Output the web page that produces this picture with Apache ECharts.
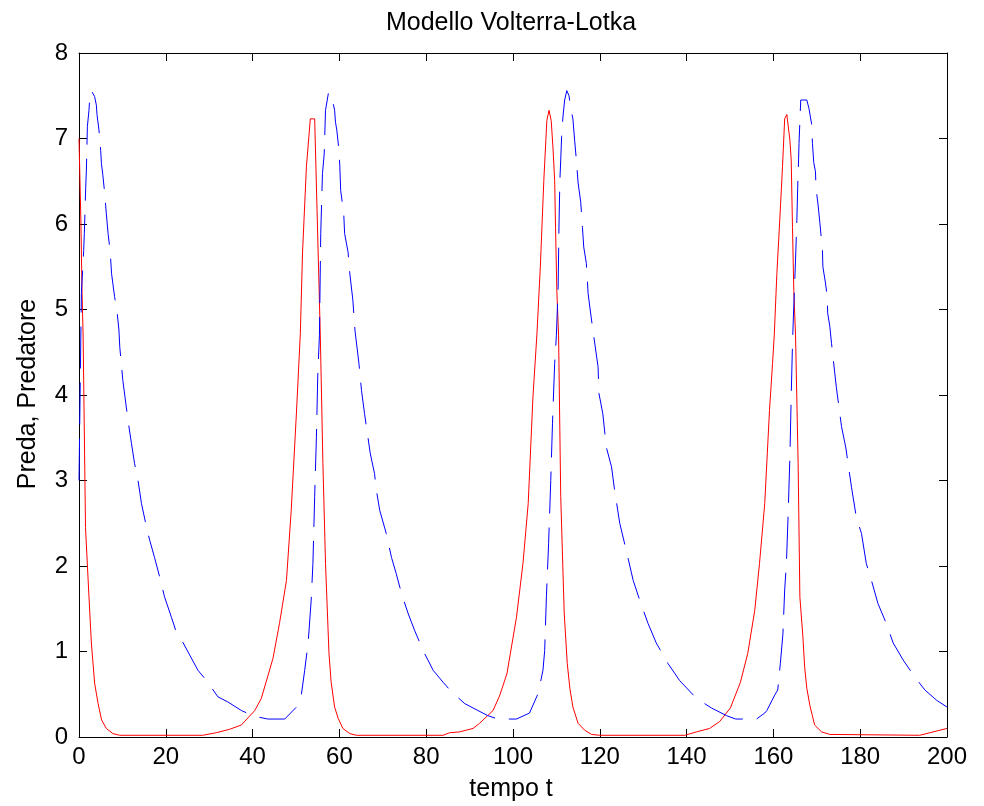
<!DOCTYPE html>
<html>
<head>
<meta charset="utf-8">
<script src="https://cdn.jsdelivr.net/npm/echarts@6/dist/echarts.min.js"></script>
<style>html,body{margin:0;padding:0;background:#fff}#c{width:984px;height:806px}</style>
</head>
<body>
<div id="c"></div>
<script>
// Prey (Preda) - red solid
var preyT = [0,0.45,0.7,0.95,1.5,2.3,2.85,3.6,4.4,5.2,6.3,7.8,9.4,28.5,31.6,34.7,37.4,40.5,42,44.7,46.2,47.8,48.9,50.1,51,51.5,52.4,53.3,54.3,55.6,56.2,56.8,57.6,58.1,58.9,59.7,60.8,62.4,63.9,83.9,85.4,87.7,90.8,92.3,95.4,96.9,98.6,100.8,102.3,103.5,104.6,105.5,106.3,107.1,107.8,108.3,108.8,109.2,109.6,109.8,110.1,110.5,111,111.8,112.5,113.1,113.8,115,116.5,118.1,120,139.6,142.3,145.3,147.6,150.1,152.4,154.1,155.7,156.8,158,158.6,159.1,159.8,160.2,160.8,161.5,162.1,162.6,163.1,163.8,164.1,164.4,164.7,165.1,165.7,166.1,166.8,167.2,167.7,168.4,169.5,171.1,173,193.7,200];
var preyY = [7.0,6.0,5.2,4.7,2.45,1.64,1.1,0.63,0.39,0.2,0.1,0.04,0.02,0.02,0.05,0.09,0.14,0.31,0.45,0.92,1.33,1.83,2.65,3.79,4.72,5.66,6.67,7.23,7.23,4.7,3.2,2.03,0.98,0.64,0.35,0.22,0.1,0.04,0.02,0.02,0.05,0.06,0.1,0.16,0.31,0.48,0.74,1.4,2.03,2.73,3.98,4.7,5.5,6.51,7.21,7.33,7.21,6.9,6.51,5.96,5.22,4.7,2.81,1.45,0.86,0.57,0.35,0.16,0.08,0.03,0.02,0.02,0.06,0.1,0.18,0.34,0.64,0.98,1.48,2.03,2.73,3.32,3.82,4.37,4.7,5.42,6.08,6.67,7.23,7.28,6.98,6.75,5.96,5.22,4.7,3.2,1.64,1.17,0.82,0.57,0.37,0.14,0.06,0.03,0.02,0.1];
// Predator (Predatore) - blue dashed
var predT = [0,0.55,1.08,1.23,1.55,1.7,1.93,2.3,2.47,2.85,3.2,3.6,4.0,4.15,4.6,5.0,5.16,5.5,5.9,6.3,6.7,7.2,7.5,8.2,8.8,9.2,9.4,10.1,11.3,12.1,12.8,13.6,14.4,15.7,16.3,17.4,18.6,19.7,21.3,22.4,24,25.5,27.4,29.4,32.0,34.3,37.4,40.1,41.6,43.5,47.4,50.1,51.2,52,52.8,53.5,53.9,54.3,54.7,55.0,55.4,55.7,56.1,56.5,56.8,57.5,57.9,58.4,58.9,59.1,59.4,59.9,60.1,60.3,61.0,61.2,62,62.4,63.1,63.6,64.5,65.1,65.8,67.1,68.1,68.5,69.3,70.8,72,73.1,74.3,75.8,77.3,79.3,81.6,83.9,85.8,88.9,91.9,94.2,96.5,100.8,103.8,105.8,106.9,107.3,107.7,108.2,108.7,109.1,109.6,110,110.4,110.6,110.8,111,111.2,111.5,111.9,112.4,112.9,113.2,113.8,114.2,114.6,115,115.6,116,116.3,116.9,117.3,117.7,118.4,119.6,119.8,120.7,121.5,122.7,123.4,124.6,126.1,127.7,129.2,131.1,133,135.7,138.4,142.3,145.7,149.2,151.3,156.1,158,158.5,160.3,161,161.6,162.2,162.6,163,163.4,163.8,164.1,164.4,164.6,164.9,165.1,165.4,165.6,165.8,165.9,166.3,166.7,167.7,168.2,168.8,169,169.3,169.7,169.8,170.3,170.7,171.3,171.4,172,172.4,172.5,173,173.4,174.5,175.1,175.7,176.7,177.2,178,179.1,180.3,181.4,182.6,184.1,186,187.6,189.9,192.6,194.9,197.6,200];
var predY = [3.0,5.19,5.69,5.89,6.43,6.63,7.14,7.33,7.47,7.56,7.54,7.49,7.39,7.28,7.1,6.86,6.71,6.57,6.37,6.12,5.89,5.67,5.42,5.15,4.96,4.76,4.56,4.17,3.7,3.43,3.2,3.0,2.73,2.42,2.3,2.1,1.87,1.64,1.4,1.23,1.1,0.96,0.78,0.66,0.47,0.41,0.31,0.25,0.23,0.21,0.21,0.35,0.48,0.78,1.1,1.6,2.03,2.81,3.5,4.2,4.7,5.89,6.59,6.82,7.33,7.54,7.52,7.45,7.33,7.19,7.1,6.86,6.67,6.39,6.12,5.89,5.67,5.42,5.11,4.75,4.37,4.05,3.78,3.32,3.08,2.89,2.65,2.38,2.1,1.91,1.68,1.45,1.25,1.01,0.78,0.64,0.53,0.39,0.31,0.25,0.21,0.21,0.28,0.51,0.78,1.01,1.64,2.26,3.0,3.67,4.37,4.7,5.26,6.0,6.51,6.75,7.02,7.25,7.45,7.56,7.5,7.39,7.23,6.98,6.75,6.48,6.26,5.96,5.73,5.54,5.19,5.03,4.76,4.33,4.02,3.78,3.39,3.16,2.89,2.5,2.18,1.83,1.6,1.33,1.1,0.86,0.66,0.45,0.34,0.25,0.21,0.21,0.28,0.31,0.49,0.55,0.86,1.21,1.72,2.03,2.61,3.27,3.98,4.6,4.9,5.31,5.58,6.04,6.43,6.75,6.94,7.45,7.46,7.45,7.35,7.17,6.94,6.72,6.61,6.43,6.22,6.02,5.69,5.5,5.31,5.15,4.96,4.8,4.6,4.09,3.86,3.63,3.38,3.2,2.92,2.57,2.38,2.03,1.83,1.56,1.33,1.1,0.9,0.7,0.55,0.43,0.35];
var xTicks = {min: 0, max: 200, interval: 20};
var yTicks = {min: 0, max: 8, interval: 1};
var titleText = 'Modello Volterra-Lotka';
var xLabel = 'tempo t';
var yLabel = 'Preda, Predatore';

function zip(a, b) { return a.map(function (v, i) { return [v, b[i]]; }); }

var FONT = '"Liberation Sans", Arial, sans-serif';
var G = {left: 79, top: 53, right: 37, bottom: 69};
var axisCommon = function (pos, show, ticks) {
  return {
    type: 'value', position: pos, min: ticks.min, max: ticks.max, interval: ticks.interval,
    axisLine: {show: true, onZero: false, lineStyle: {color: '#000', width: 1}},
    axisTick: {show: true, inside: true, length: 8, lineStyle: {color: '#000', width: 1}},
    axisLabel: {show: show, color: '#000', fontSize: 24, fontFamily: FONT, margin: pos === 'left' ? 11 : 8, showMinLabel: true, showMaxLabel: true},
    splitLine: {show: false}
  };
};

var chart = echarts.init(document.getElementById('c'), null, {renderer: 'canvas'});
chart.setOption({
  animation: false,
  backgroundColor: '#fff',
  grid: G,
  xAxis: [axisCommon('bottom', true, xTicks), axisCommon('top', false, xTicks)],
  yAxis: [axisCommon('left', true, yTicks), axisCommon('right', false, yTicks)],
  series: [
    {type: 'line', xAxisIndex: 0, yAxisIndex: 0, data: zip(preyT, preyY), showSymbol: false, symbol: 'none',
      lineStyle: {color: '#ff0000', width: 1}},
    {type: 'line', xAxisIndex: 0, yAxisIndex: 0, data: zip(predT, predY), showSymbol: false, symbol: 'none',
      lineStyle: {color: '#0000ff', width: 1, type: [42, 14]}}
  ],
  graphic: [
    {type: 'text', x: 511, y: 23, style: {text: titleText, font: '25px ' + FONT, fill: '#000', textAlign: 'center', textVerticalAlign: 'middle'}},
    {type: 'text', x: 511, y: 789, style: {text: xLabel, font: '25px ' + FONT, fill: '#000', textAlign: 'center', textVerticalAlign: 'middle'}},
    {type: 'text', x: 28, y: 394, rotation: Math.PI / 2, style: {text: yLabel, font: '25px ' + FONT, fill: '#000', textAlign: 'center', textVerticalAlign: 'middle'}}
  ]
});
</script>
</body>
</html>
